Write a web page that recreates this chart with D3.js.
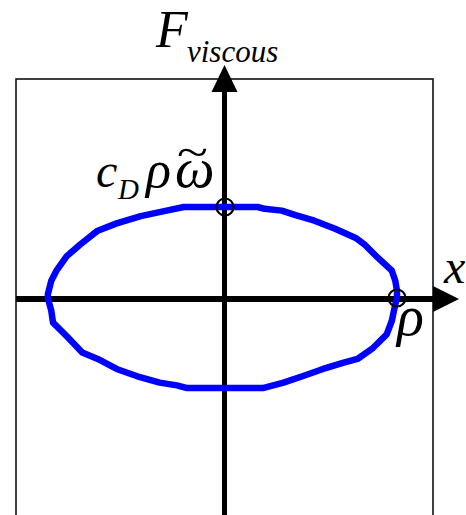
<!DOCTYPE html>
<html>
<head>
<meta charset="utf-8">
<script src="https://cdn.jsdelivr.net/npm/d3@7"></script>
<style>
  html, body { margin: 0; padding: 0; background: #fff; }
  svg { display: block; }
</style>
</head>
<body>
<svg id="chart" width="466" height="515"></svg>
<script>
// Normalised displacement x/ρ around one cycle
const xValues = [
  0, 0.19, 0.23, 0.33, 0.41, 0.52, 0.64, 0.76, 0.81, 0.89, 0.97, 0.99, 1.0, 1.0,
  0.99, 0.97, 0.94, 0.86, 0.77, 0.69, 0.57, 0.45, 0.34, 0.22, 0,
  -0.22, -0.28, -0.38, -0.51, -0.63, -0.74, -0.83, -0.92, -1.0, -1.01, -1.03,
  -1.03, -1.01, -0.98, -0.92, -0.84, -0.74, -0.63, -0.49, -0.34, -0.24
];
// Normalised viscous force F/(c_D ρ ω̃) at the same instants
const forceValues = [
  1.0, 1.0, 0.98, 0.96, 0.91, 0.85, 0.76, 0.66, 0.59, 0.44, 0.30, 0.19, 0.08, 0,
  -0.07, -0.25, -0.40, -0.55, -0.67, -0.71, -0.78, -0.86, -0.93, -0.99, -0.99,
  -0.99, -0.96, -0.93, -0.86, -0.78, -0.67, -0.60, -0.42, -0.27, -0.14, 0,
  0.04, 0.19, 0.30, 0.46, 0.59, 0.74, 0.82, 0.90, 0.96, 1.0
];
// Marked points: peak force on the F axis and amplitude on the x axis
const markerX = [0, 1];
const markerF = [1, 0];

const svg = d3.select("#chart");

const x = d3.scaleLinear().domain([-1, 1]).range([53, 397]);
const y = d3.scaleLinear().domain([-1, 1]).range([389, 207]);

// Frame (open at the bottom edge of the page)
svg.append("rect")
  .attr("x", 16).attr("y", 79)
  .attr("width", 417).attr("height", 500)
  .attr("fill", "none").attr("stroke", "#111").attr("stroke-width", 1.6);

// Horizontal (x) axis with arrow head
const x0 = 16, xEnd = 433, xTip = 459, yAxis = y(0) + 1;
svg.append("line")
  .attr("x1", x0).attr("x2", xEnd + 2)
  .attr("y1", yAxis).attr("y2", yAxis)
  .attr("stroke", "#000").attr("stroke-width", 6);
svg.append("path")
  .attr("d", `M${xEnd},${yAxis - 13}L${xTip},${yAxis}L${xEnd},${yAxis + 13}Z`)
  .attr("fill", "#000");

// Vertical (F) axis with arrow head
const xAxisPos = x(0) - 0.5, yTip = 65, yBase = 92;
svg.append("line")
  .attr("x1", xAxisPos).attr("x2", xAxisPos)
  .attr("y1", yBase - 2).attr("y2", 520)
  .attr("stroke", "#000").attr("stroke-width", 5);
svg.append("path")
  .attr("d", `M${xAxisPos - 13},${yBase}L${xAxisPos},${yTip}L${xAxisPos + 13},${yBase}Z`)
  .attr("fill", "#000");

// Force–displacement loop
const pts = xValues.map((v, i) => [v, forceValues[i]]);
const loop = d3.line()
  .x(d => x(d[0]))
  .y(d => y(d[1]))
  .curve(d3.curveLinearClosed);
svg.append("path")
  .attr("d", loop(pts))
  .attr("fill", "none")
  .attr("stroke", "#0000ff")
  .attr("stroke-width", 6.5)
  .attr("stroke-linejoin", "round");

// Markers
svg.selectAll("circle.marker")
  .data(markerX.map((v, i) => [v, markerF[i]]))
  .join("circle")
  .attr("class", "marker")
  .attr("cx", d => x(d[0]))
  .attr("cy", d => y(d[1]))
  .attr("r", 8.5)
  .attr("fill", "none")
  .attr("stroke", "#000")
  .attr("stroke-width", 2.2);

function label(px, py, size, str) {
  return svg.append("text")
    .attr("x", px).attr("y", py)
    .style("font-family", '"Liberation Serif"')
    .style("font-style", "italic")
    .style("font-size", size + "px")
    .attr("fill", "#000")
    .text(str);
}

// Axis titles
label(156, 47, 52, "F");
label(187, 62, 31, "viscous");
label(444, 283, 48, "x");

// Amplitude label
label(397, 335, 56, "ρ");

// Peak force label
label(96, 187, 48, "c");
label(118, 199, 29, "D");
label(146, 187, 52, "ρ");
label(175, 187, 56, "ω");
// tilde over ω
label(0, 0, 44, "~")
  .style("font-style", "normal")
  .attr("transform", "translate(177,167) scale(1.3,1)");
</script>
</body>
</html>
